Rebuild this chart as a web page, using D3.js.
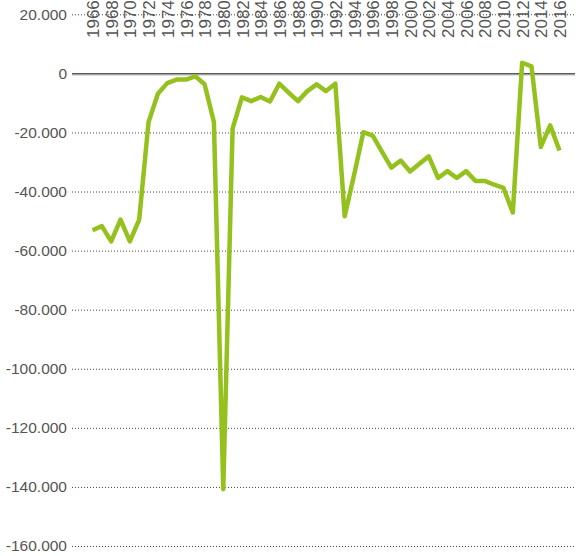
<!DOCTYPE html>
<html>
<head>
<meta charset="utf-8">
<script src="https://cdn.jsdelivr.net/npm/d3@7"></script>
<style>
  body { margin: 0; background: #fff; }
  svg { display: block; font-family: Lato, "Open Sans", sans-serif; }
</style>
</head>
<body>
<div id="chart"></div>
<script>
// data
const years = d3.range(1966, 2017);
const values = [
  -53100, -51700, -56900, -49500, -56900, -49500, -16500, -6900, -3300, -2100,
  -2100, -1000, -3700, -16500, -140800, -18700, -8100, -9400, -8000, -9500,
  -3500, -6500, -9400, -6000, -3700, -6000, -3500, -48400, -34500, -19900,
  -21100, -26600, -31900, -29500, -33200, -30600, -28100, -35400, -33100, -35400,
  -33100, -36400, -36400, -37700, -38800, -47100, 3600, 2400, -24900, -17600,
  -26100
];
const yTicks = [20000, 0, -20000, -40000, -60000, -80000, -100000, -120000, -140000, -160000];
const xTicks = d3.range(1966, 2017, 2);

const width = 583,
    height = 556,
    gridLeft = 72,
    gridRight = 575;

const fmt = d3.formatLocale({decimal: ",", thousands: ".", grouping: [3], currency: ["", ""], minus: "-"}).format(",");

const svg = d3.select("#chart").append("svg")
    .attr("width", width)
    .attr("height", height);

// scales
// ------------------------------------------------------
const xScale = d3.scaleLinear()
    .domain([1966, 2016])
    .range([92.5, 559.5]);

const yScale = d3.scaleLinear()
    .domain([20000, -160000])
    .range([14.3, 546]);

// y axis with grid lines
// ------------------------------------------------------
const yAxis = svg.append("g")
    .attr("class", "yAxis")
    .attr("transform", `translate(${gridLeft}, 0)`)
    .call(d3.axisLeft(yScale)
        .tickValues(yTicks)
        .tickSize(-(gridRight - gridLeft))
        .tickPadding(5)
        .tickFormat(d => fmt(d)));

yAxis.select(".domain").remove();
yAxis.selectAll(".tick line")
    .attr("stroke", d => d === 0 ? "#222" : "#444")
    .attr("stroke-width", d => d === 0 ? 1.4 : 1)
    .attr("stroke-dasharray", d => d === 0 ? null : "1,2");
yAxis.selectAll(".tick text")
    .attr("fill", "#555")
    .style("font-size", "15.5px");

// soft shadow under the zero line
svg.append("line")
    .attr("x1", gridLeft)
    .attr("x2", gridRight)
    .attr("y1", yScale(0) + 1.5)
    .attr("y2", yScale(0) + 1.5)
    .attr("stroke", "#aaa")
    .attr("stroke-width", 1);

// x labels, rotated, along the top
// ------------------------------------------------------
const xAxis = svg.append("g")
    .attr("class", "xAxis")
    .attr("transform", "translate(0, 38)")
    .call(d3.axisBottom(xScale)
        .tickValues(xTicks)
        .tickSize(0)
        .tickFormat(d3.format("d")));

xAxis.select(".domain").remove();
xAxis.selectAll(".tick text")
    .attr("x", 0)
    .attr("y", 0)
    .attr("dy", "0.36em")
    .attr("transform", "rotate(-90)")
    .style("text-anchor", "start")
    .attr("fill", "#555")
    .style("font-size", "17px");

// line
// ------------------------------------------------------
const line = d3.line()
    .x((d, i) => xScale(years[i]))
    .y(d => yScale(d));

svg.append("path")
    .datum(values)
    .attr("fill", "none")
    .attr("stroke", "#95c11f")
    .attr("stroke-width", 4.5)
    .attr("stroke-linejoin", "round")
    .attr("d", line);
</script>
</body>
</html>
